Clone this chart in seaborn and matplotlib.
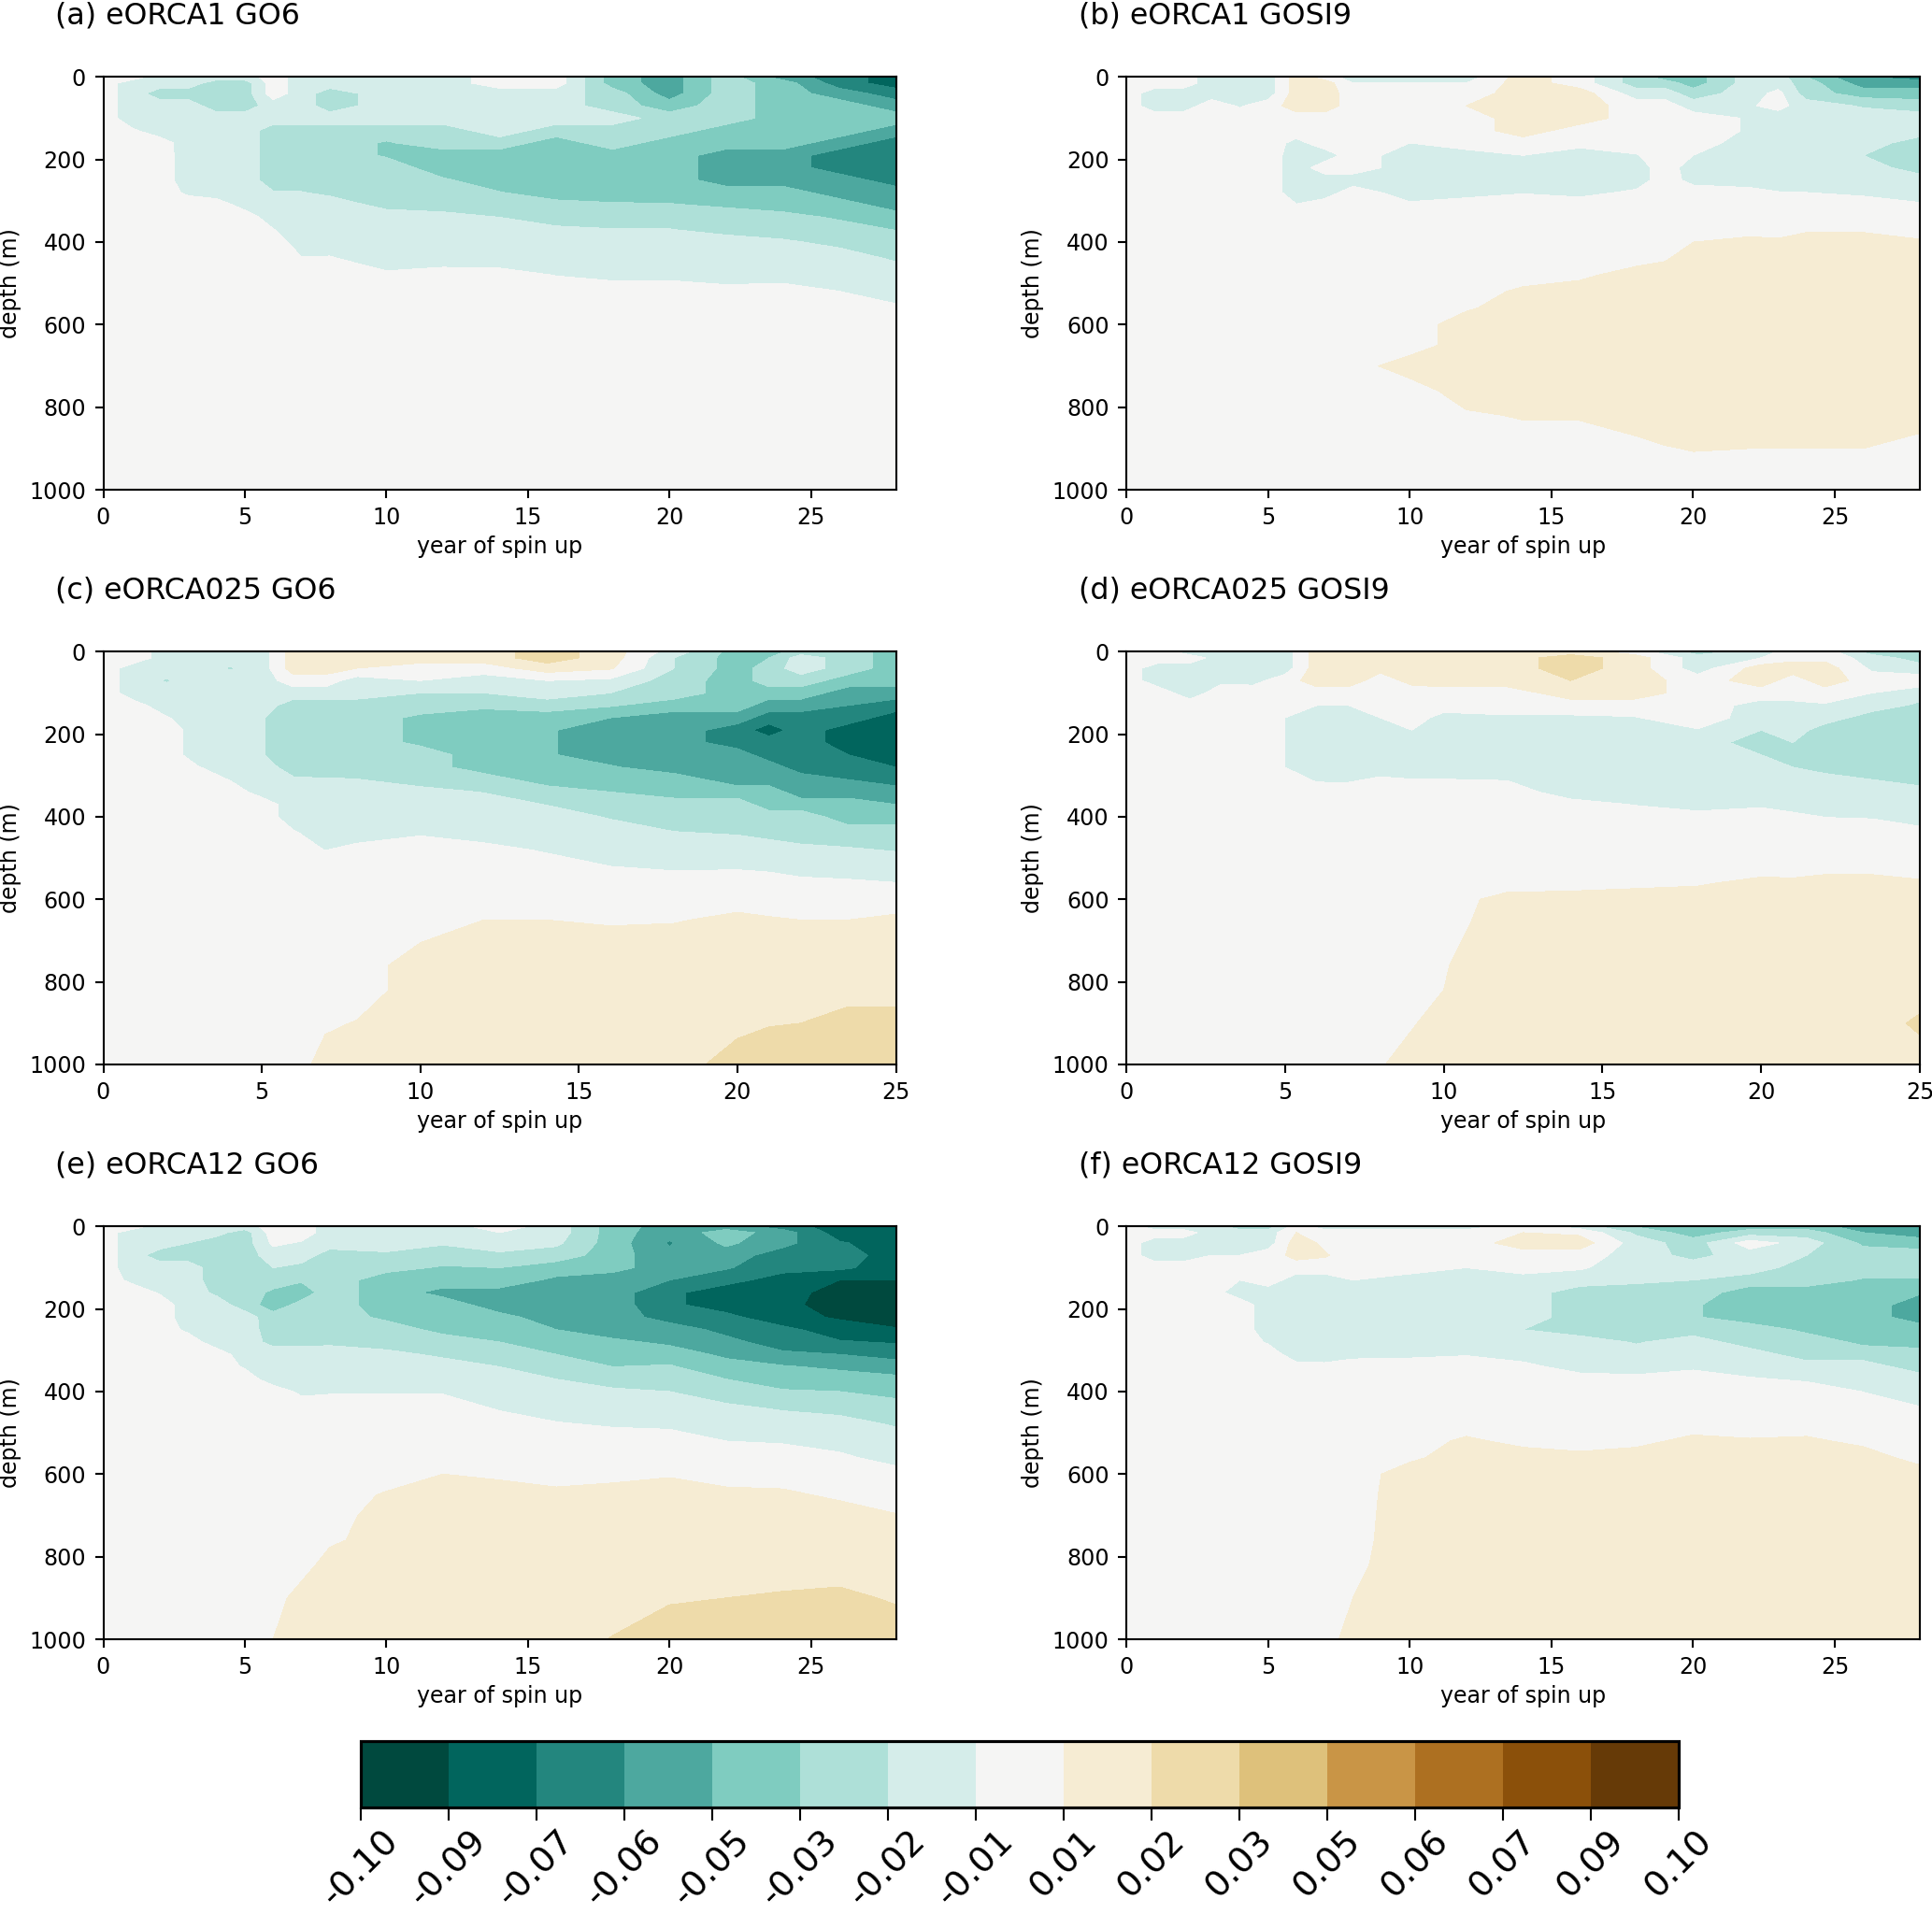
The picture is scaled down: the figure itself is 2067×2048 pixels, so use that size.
import numpy as np
import matplotlib
matplotlib.use("Agg")
import matplotlib.pyplot as plt
import seaborn as sns

W, H, DPI = 2067, 2048, 190
sns.set_theme(style="ticks", rc={"axes.edgecolor": "black", "xtick.color": "black", "ytick.color": "black",
                                 "axes.labelcolor": "black", "text.color": "black", "axes.linewidth": 0.8,
                                 "xtick.major.width": 0.8, "ytick.major.width": 0.8,
                                 "xtick.major.size": 3.5, "ytick.major.size": 3.5,
                                 "xtick.major.pad": 3.5, "ytick.major.pad": 3.5})
plt.rcParams["font.family"] = ["DejaVu Sans"]

DEPTHS = [0, 15, 40, 70, 100, 130, 160, 190, 220, 250, 280, 310, 340, 370, 400, 440, 480, 520, 560, 600, 650, 700, 760, 820, 900, 1000]
BAND_STEP = 0.2 / 15   # values below are anomalies in multiples of this step
LEVELS = np.linspace(-0.1, 0.1, 16)
TITLES = ["(a) eORCA1 GO6", "(b) eORCA1 GOSI9", "(c) eORCA025 GO6", "(d) eORCA025 GOSI9", "(e) eORCA12 GO6", "(f) eORCA12 GOSI9"]

YEARS_A = [0, 1, 2, 3, 4, 5, 6, 7, 8, 10, 12, 14, 16, 18, 20, 22, 24, 26, 28]
# each column: (values from the surface down, values up from 1000 m); the rest of the column reads 0
COLS_A = [
    ([], []),
    ([0, -1, -1, -1, -1, -.35], []),
    ([-1, -1, -2, -1, -1, -1, -.06], []),
    ([-1, -1, -2, -1, -1, -1, -1, -1, -1, -1, -.68], []),
    ([-1, -2, -2, -2, -1, -1, -1, -1, -1, -1, -1], []),
    ([-1, -2, -2, -2, -1, -1, -1, -1, -1, -1, -1, -.88], []),
    ([0, 0, 0, -1, -1, -2, -2, -2, -2, -2, -1.43, -1, -1, -.46], []),
    ([-1, -1, -1, -1, -1, -2, -2, -2, -2, -2, -1.46, -1, -1, -1, -1, -.44], []),
    ([-1, -1, -2, -2, -1, -2, -2, -2, -2, -2, -1.71, -1, -1, -1, -1, -.41], []),
    ([-1, -1, -1, -1, -1, -2, -2.6, -2.6, -2, -2, -2, -1.79, -1, -1, -1, -1, -.33], []),
    ([-1, -1, -1, -1, -1, -2, -2, -3, -3, -2.38, -2, -2, -1.12, -1, -1, -1, -.05], []),
    ([0, 0, -1, -1, -1, -1, -2, -3, -3, -3, -2.46, -2, -1.5, -1, -1, -1, -.13], []),
    ([0, 0, -1, -1, -1, -2, -3, -3, -3, -3, -3, -2.17, -2, -1.29, -1, -1, -.53], []),
    ([-3, -3, -2, -2, -1, -2, -2, -3, -3, -3, -3, -2.38, -2, -1.46, -1, -1, -.77], []),
    ([-4, -4, -4, -3, -2, -2, -3, -3, -3, -3, -3, -2.43, -2, -1.46, -1, -1, -.75], []),
    ([-2, -2, -2, -2, -2, -3, -3, -4, -4, -4, -3, -2.65, -2, -1.88, -1, -1, -1, -.14], []),
    ([-4, -3, -3, -3, -3, -3, -3, -4, -4, -4, -3, -3, -2.12, -2, -1.35, -1, -1], []),
    ([-5, -5, -4, -3, -3, -3, -4, -5, -5, -4, -4, -3, -2.65, -2, -1.77, -1, -1, -.49], []),
    ([-6, -6, -5, -4, -3, -4, -5, -5, -5, -5, -4, -4, -3, -2.54, -2, -1.63, -1, -1, -.32], []),
]

YEARS_B = [0, 1, 2, 3, 4, 5, 6, 7, 8, 10, 12, 14, 16, 18, 19, 20, 22, 23, 24, 26, 28]
COLS_B = [
    ([], []),
    ([0, 0, -1, -1], []),
    ([0, 0, -1, -1], []),
    ([-1, -1, -1], []),
    ([-1, -1, -1, -.6], []),
    ([-1, -1, -1], []),
    ([1, 1, 1, 1, 0, 0, -.79, -1, -1, -1, -1, -.46], []),
    ([0, 1, 1, 1, 0, 0, 0, -1, 0, -1, -1], []),
    ([-1, -.5, 0, 0, 0, 0, 0, 0, 0, -1], [.1, 0, 0, 0, 0]),
    ([-1, -.5, 0, 0, 0, 0, -.5, -1, -1, -1, -1, -.32], [1, 0, 0, 0, 0]),
    ([-1, -.5, 0, .5, 0, 0, 0, -.94, -1, -1, -.88], [.375, 1, 1, 1, 1, .35, 0, 0]),
    ([1, 1, 1, 1, 1, 1, 0, -.5, -1, -1, -.56], [.71, 1, 1, 1, 1, 1, .58, 0, 0]),
    ([0, 0, 1, 1, 1, 0, -.17, -1, -1, -1, -.79], [.26, 1, 1, 1, 1, 1, 1, .59, 0, 0]),
    ([-2, -2, -1, 0, 0, 0, 0, -.56, -1, -1, -.32], [.05, 1, 1, 1, 1, 1, 1, 1, 1, .2, 0]),
    ([-3, -2, -1], [.39, 1, 1, 1, 1, 1, 1, 1, 1, .45, 0]),
    ([-3, -3, -2, -1, 0, 0, 0, -.5, -1, -.83], [.49, 1, 1, 1, 1, 1, 1, 1, 1, 1, .54, 0]),
    ([-1, -1, -1, -.6, -.6, -.6, -1, -1, -1, -1, -.17], [.88, 1, 1, 1, 1, 1, 1, 1, 1, 1, .5, 0]),
    ([-1, -1, -.2, -.2, -1, -1, -1, -1, -1, -1, -.46], [.71, 1, 1, 1, 1, 1, 1, 1, 1, 1, .5, 0]),
    ([-2.5, -2, -2, -1, -1, -1, -1, -1, -1, -1, -.5], [.35, 1, 1, 1, 1, 1, 1, 1, 1, 1, 1, .5, 0]),
    ([-4.5, -4, -3, -1.6, -1, -1, -1, -1.5, -1, -1, -.71], [.35, 1, 1, 1, 1, 1, 1, 1, 1, 1, 1, .5, 0]),
    ([-5, -4, -3, -2, -1, -1, -2, -2, -2, -1, -1, -.38], [.65, 1, 1, 1, 1, 1, 1, 1, 1, 1, .07, 0]),
]

YEARS_C = [0, 1, 2, 3, 4, 5, 6, 7, 8, 10, 12, 14, 16, 18, 20, 21, 22, 23.5, 25]
COLS_C = [
    ([], []),
    ([0, 0, -1, -1, -1, -.21], []),
    ([-1, -1, -1, -1.6, -1, -1, -.44], []),
    ([-1, -1, -1, -1, -1, -1, -1, -1, -1, -1, -.46], []),
    ([-1, -1, -1.6, -1, -1, -1, -1, -1, -1, -1, -1, -.54], []),
    ([-1, -1, -1, -1, -1, -1, -1.45, -1.45, -1.45, -1.45, -1, -1, -.88], []),
    ([1, 1, 1, 0, -1, -2, -2, -2, -2, -2, -2, -1.35, -1, -1, -1, -.38], []),
    ([1, 1, 1, 0, -1, -2, -2, -2, -2, -2, -2, -1.43, -1, -1, -1, -1, -.53], [.35, .9]),
    ([1, 1, .5, -1, -1, -2, -2, -2, -2, -2, -2, -1.46, -1, -1, -1, -1, -.17], [.55, 1]),
    ([1, 1, 0, -.5, -1.5, -2, -2.7, -2.7, -2.7, -2, -2, -2, -1.12, -1, -1, -.59], [.45, 1, 1, 1, 1]),
    ([1, 1, 0, -1, -1.5, -2.3, -3, -3, -3, -3, -3, -2, -1.54, -1, -1, -1, -.13], [.5, 1, 1, 1, 1, 1]),
    ([2, 2, 1, -.5, -1, -2, -3, -3.4, -3.4, -3.4, -3, -3, -2, -1.54, -1, -1, -.63], [.5, 1, 1, 1, 1, 1]),
    ([1, 1, .6, -.7, -1.5, -2.4, -3.5, -4, -4, -4, -3.4, -3, -2.5, -2, -1.59, -1, -1, -.5], [.3, 1, 1, 1, 1, 1]),
    ([-1, -1.5, -1.5, -2, -2, -3, -4, -4, -4, -4, -4, -3, -3, -2, -2, -1.44, -1, -.69], [.4, 1, 1, 1, 1, 1]),
    ([-3, -3, -3, -3, -3, -3, -4, -5, -5, -4, -4, -4, -3, -2, -2, -1.56, -1, -.63], [.8, 1, 1, 1, 1.2, 2]),
    ([-3, -2.5, -2, -2, -3, -4, -5, -6, -5, -5, -4, -4, -3, -3, -2, -1.8, -1, -.77], [.6, 1, 1, 1, 1.45, 2]),
    ([-2, -1, -1, -2, -3, -4, -5, -5, -5, -5, -5, -4, -4, -3, -2, -2, -1.23, -1, -.23], [.5, 1, 1, 1, 1.5, 2]),
    ([-2, -2, -2, -3, -4, -4.5, -5, -6, -6, -5.5, -5, -4.5, -4, -3, -3, -2, -1.41, -1, -.36], [.5, 1, 1, 1, 2, 2]),
    ([-3, -3, -3, -3, -4, -5, -6, -6, -6, -6, -5.5, -5, -4, -3.5, -3, -2, -1.56, -1, -.49], [.7, 1, 1, 1, 2, 2]),
]

YEARS_D = [0, 1, 2, 3, 4, 5, 6, 7, 8, 9, 10, 12, 14, 16, 18, 20, 21, 22, 23.5, 25]
COLS_D = [
    ([], []),
    ([0, 0, -1, -1], []),
    ([-1, 0, -1, -1, -1], []),
    ([-1, -1, -1, -.7], []),
    ([-1, -1, -1, -.8], []),
    ([-1, -1, -1, 0, 0, 0, -.5, -.5, -.5, -.5, -.5], []),
    ([1, 1, 1, 1, 0, -.5, -1, -1, -1, -1, -1, -.63], []),
    ([1, 1, 1, 1, 0, -.5, -1, -1, -1, -1, -1, -.64], []),
    ([1, 1, .8, 0, 0, 0, -.5, -1, -1, -1, -1, -.35], [.1, .4]),
    ([1, 1, 1, .8, 0, 0, 0, -.5, -1, -1, -1, -.48], [.4, 1]),
    ([1, 1, 1, 1, 0, 0, -.88, -1, -1, -1, -1, -.48], [.1, .3, .45, .5, 1, 1]),
    ([1, 1, 1, 1, 0, 0, -.65, -1, -1, -1, -1, -.54], [.87, 1, 1, 1, 1, 1, 1]),
    ([1, 2, 2, 1.5, 1, 0, -.65, -1, -1, -1, -1, -1, -1, -.12], [1, 1, 1, 1, 1, 1, 1]),
    ([0, 1, 1, 1, 1, 0, -.56, -1, -1, -1, -1, -1, -1, -.54], [.23, 1, 1, 1, 1, 1, 1, 1]),
    ([-2, -1, -1, 0, 0, 0, 0, -.56, -1, -1, -1, -1, -1, -1, -.06], [.375, 1, 1, 1, 1, 1, 1, 1]),
    ([-1, -.5, 1, 1, 0, -.88, -1, -1.5, -2, -1.5, -1, -1, -1, -.68], [.77, 1, 1, 1, 1, 1, 1, 1]),
    ([0, .2, 1, 0, 0, -.79, -1, -1, -1.5, -2, -1.5, -1, -1, -1, -.21], [.71, 1, 1, 1, 1, 1, 1, 1]),
    ([0, .2, 1, 1, 0, -.6, -1, -2, -2, -2, -2, -1, -1, -1, -.52], [1, 1, 1, 1, 1, 1, 1, 1]),
    ([-2, -1, -.7, 0, -.5, -1, -2, -2, -2, -2, -2, -1.5, -1, -1, -.57], [1, 1, 1, 1, 1, 1, 1, 1]),
    ([-2, -2, -1, 0, -1, -1.7, -2, -2, -2, -2, -2, -2, -1, -1, -1, -.13], [.63, 1, 1, 1, 1, 1, 1.7, 1]),
]

YEARS_E = [0, 1, 2, 3, 4, 5, 6, 7, 8, 10, 12, 14, 16, 18, 20, 22, 24, 26, 28]
COLS_E = [
    ([], []),
    ([0, -1, -1, -1, -1, -.7], []),
    ([-1, -1, -1, -2, -1, -1, -.6], []),
    ([-1, -1, -1.5, -2, -1, -1, -1, -1, -1, -.7], []),
    ([-1, -1.2, -2, -2, -2, -2, -1.7, -1, -1, -1, -1], []),
    ([-1, -2, -2, -2, -2, -2, -2, -2, -1, -1, -1, -1, -.6], []),
    ([0, 0, -.3, -1, -1.5, -2, -2.7, -3, -2.1, -2, -1.8, -1, -1, -1], [.5]),
    ([0, 0, -.6, -1, -1.8, -2.4, -3, -2.2, -2, -2, -1.8, -1, -1, -1, -.7], [1, 1]),
    ([-1, -1, -1, -2, -2, -2, -2, -2, -2, -2, -1.7, -1, -1, -1, -.6], [.3, 1, 1, 1]),
    ([-1, -1, -1, -1.7, -2.2, -3, -3, -3, -2.7, -2, -2, -1.2, -1, -1, -.6], [.6, 1, 1, 1, 1, 1]),
    ([-1, -1, -1.4, -2, -2.6, -3, -3.8, -3, -3, -2.8, -2, -1.7, -1, -1, -.6], [.5, 1, 1, 1, 1, 1, 1]),
    ([0, -.5, -1, -1.7, -2.5, -3, -3.8, -4, -3.2, -3, -2.5, -2, -1.5, -1, -1, -.6], [.3, 1, 1, 1, 1, 1, 1]),
    ([-1, -1, -1.3, -2, -3, -3.7, -4, -4, -4, -3.5, -3, -2.5, -2, -1.5, -1, -1, -.4], [.8, 1, 1, 1, 1, 1]),
    ([-3, -3, -3, -3, -3.2, -4, -4, -4, -4, -4, -3.3, -3, -2.5, -2, -1.3, -1, -.6], [.2, .9, 1, 1, 1, 1, 1.55]),
    ([-4, -4.2, -4.6, -4.3, -4, -4.5, -5.3, -5.3, -4.9, -4, -3.7, -3, -2.4, -2, -1.5, -1, -.7], [.4, 1, 1, 1, 1, 1.4, 2]),
    ([-4, -3, -3.3, -4, -4.4, -5.2, -6, -6, -5.2, -4.8, -4.2, -3.7, -3.1, -2.5, -2, -1.3, -1, -.5], [.8, 1, 1, 1, 1.5, 2]),
    ([-5, -4, -4.2, -5, -5.2, -5.9, -6, -6.2, -6.2, -5.2, -5, -4.3, -3.4, -3, -2.4, -1.6, -1, -.6], [.7, 1, 1, 1.1, 1.6, 2]),
    ([-6, -6, -5.4, -5, -5.3, -6.5, -7, -7, -6.6, -6.1, -5.4, -4.5, -3.7, -3, -2.5, -1.9, -1, -.7, -.4], [.3, 1, 1, 1.1, 1.7, 2]),
    ([-6, -6, -6, -6, -6, -6.5, -7, -7, -7, -6.4, -5.6, -4.8, -4.1, -3.2, -2.8, -2.1, -1.6, -1, -.7, -.3], [.55, 1, 1, 1.4, 2]),
]

YEARS_F = [0, 1, 2, 3, 4, 5, 6, 7, 8, 10, 12, 14, 16, 18, 20, 22, 24, 26, 28]
COLS_F = [
    ([], []),
    ([-1, 0, -1, -1], []),
    ([-1, 0, -1, -1], []),
    ([-1, -1, -1, -.5, 0, 0, -.1], []),
    ([-2, -1, -1, -.5, 0, -.5, -1], []),
    ([-2, -1, -1, 0, 0, 0, -1, -1, -1, -1, -.6], []),
    ([0, .5, 1, .8, 0, -1, -1, -1, -1, -1, -1, -1, -.17], []),
    ([-1, 0, .3, .6, 0, -1, -1, -1, -1, -1, -1, -1, -.25], []),
    ([-1, 0, 0, 0, 0, -.5, -1, -1, -1, -1, -1, -.79], [.1, .15, .2, .3, .5, 1]),
    ([-1, 0, 0, 0, 0, -1, -1, -1, -1, -1, -1, -.71], [.3, 1, 1, 1, 1, 1, 1, 1]),
    ([-1, 0, 0, 0, -.5, -1, -1, -1, -1, -1, -1, -.56], [.7, 1, 1, 1, 1, 1, 1, 1, 1]),
    ([0, .5, 1, 0, 0, -1, -1, -1, -1, -1.5, -1, -1, -.17], [.2, 1, 1, 1, 1, 1, 1, 1, 1]),
    ([-1, .3, 1, 0, -.4, -1, -2, -2, -2, -2, -1, -1, -1], [.8, 1, 1, 1, 1, 1, 1, 1]),
    ([-2.6, -1.7, -1, -1, -1, -1.3, -2, -2, -2, -2, -1.6, -1, -1, -.21], [.2, 1, 1, 1, 1, 1, 1, 1, 1]),
    ([-3, -3, -2, -1.8, -1, -1.5, -2, -2.4, -2.4, -2, -1, -1, -.68], [.8, 1, 1, 1, 1, 1, 1, 1, 1]),
    ([-3, -2, 0, -1, -1, -2, -3, -3, -3, -2, -2, -1, -1, -.4], [.6, 1, 1, 1, 1, 1, 1, 1, 1]),
    ([-3, -2, -1, -1.5, -2, -2, -3, -3, -3, -2.7, -2, -2, -1, -.63], [.7, 1, 1, 1, 1, 1, 1, 1, 1]),
    ([-4, -3.5, -2.7, -2, -2, -2.6, -3, -3, -3, -3, -2.7, -2, -1, -1, -.52], [.25, 1, 1, 1, 1, 1, 1, 1, 1]),
    ([-4, -4, -3, -2, -2, -2.6, -3.4, -4, -4, -3, -3, -2, -2, -1, -1, -.44], [.1, 1, 1, 1, 1, 1, 1, 1]),
]

PANELS = [(YEARS_A, COLS_A), (YEARS_B, COLS_B), (YEARS_C, COLS_C), (YEARS_D, COLS_D), (YEARS_E, COLS_E), (YEARS_F, COLS_F)]


def field(cols):
    out = []
    for top, bottom in cols:
        n = len(DEPTHS) - len(top) - len(bottom)
        out.append(list(top) + [0] * n + list(bottom))
    return np.array(out, dtype=float).T * BAND_STEP


def px_axes(fig, left, right, top, bottom):
    return fig.add_axes([left / W, 1 - bottom / H, (right - left) / W, (bottom - top) / H])


fig = plt.figure(figsize=(W / DPI, H / DPI), dpi=DPI)
cmap = sns.color_palette("BrBG_r", as_cmap=True)
lefts = [(110.5, 958.5), (1205, 2054)]
tops = [(82.3, 524), (697.3, 1139), (1312.3, 1754)]
title_x = [59, 1154]

cf = None
for i, ((years, cols), title) in enumerate(zip(PANELS, TITLES)):
    row, col = i // 2, i % 2
    ax = px_axes(fig, lefts[col][0], lefts[col][1], tops[row][0], tops[row][1])
    cf = ax.contourf(years, DEPTHS, field(cols), levels=LEVELS, cmap=cmap, vmin=-0.1, vmax=0.1)
    ax.set_ylim(1000, 0)
    ax.set_xlim(0, years[-1])
    ax.set_xticks(np.arange(0, years[-1] + 1, 5))
    ax.set_yticks(np.arange(0, 1001, 200))
    ax.tick_params(labelsize=9)
    ax.set_xlabel("year of spin up", fontsize=9)
    ax.set_ylabel("depth (m)", fontsize=9)
    ax.xaxis.set_label_coords(0.5, -0.112)
    ax.yaxis.set_label_coords(-0.1035, 0.5)
    for s in ax.spines.values():
        s.set_visible(True)
    fig.text(title_x[col] / W, 1 - (tops[row][0] - 57) / H, title, fontsize=12, ha="left", va="baseline")

cax = px_axes(fig, 386, 1796, 1863, 1934)
cb = fig.colorbar(cf, cax=cax, orientation="horizontal", ticks=LEVELS, format="%.2f")
cb.ax.tick_params(labelsize=14.5, length=5.3, width=0.8, rotation=45, pad=1.5)
cb.outline.set_linewidth(1.2)
cb.outline.set_edgecolor("black")

fig.savefig("out.png", dpi=DPI)
